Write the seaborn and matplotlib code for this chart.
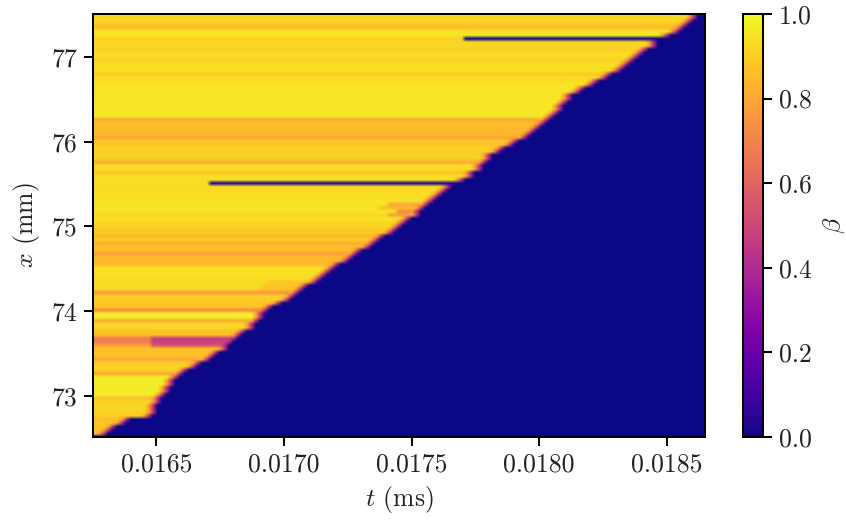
import numpy as np
import pandas as pd
import seaborn as sns
from matplotlib import pyplot as plt

# grid limits
t_min = 0.016252
t_step = 0.0000175
n_cols = 137
y_min = 72.516
y_max = 77.507

# ticks
x_ticks = [0.0165, 0.0170, 0.0175, 0.0180, 0.0185]
x_labels = ['0.0165', '0.0170', '0.0175', '0.0180', '0.0185']
y_ticks = [73, 74, 75, 76, 77]
y_labels = ['73', '74', '75', '76', '77']
cbar_ticks = [0.0, 0.2, 0.4, 0.6, 0.8, 1.0]
cbar_labels = ['0.0', '0.2', '0.4', '0.6', '0.8', '1.0']

# front time for every x row, bottom to top (1e-5 ms)
front_t = [1625.2, 1631.1, 1632.7, 1634.7, 1637.0, 1639.0, 1648.5, 1648.9, 1649.3, 1650.1,
           1650.8, 1652.0, 1653.2, 1654.4, 1655.6, 1656.4, 1657.5, 1658.7, 1660.3, 1662.7,
           1665.0, 1667.4, 1670.2, 1672.5, 1674.5, 1676.9, 1678.5, 1680.0, 1681.6, 1683.2,
           1685.2, 1687.9, 1688.7, 1689.9, 1691.1, 1691.9, 1693.4, 1695.8, 1699.0, 1701.7,
           1703.7, 1706.1, 1708.0, 1710.0, 1712.0, 1714.0, 1715.9, 1717.9, 1720.3, 1722.2,
           1724.6, 1726.6, 1728.9, 1730.9, 1733.3, 1735.2, 1737.6, 1739.6, 1742.0, 1744.3,
           1746.3, 1748.3, 1750.3, 1752.2, 1753.4, 1755.0, 1757.0, 1758.5, 1760.5, 1762.5,
           1764.1, 1765.6, 1768.0, 1771.2, 1773.1, 1774.7, 1776.7, 1777.9, 1779.1, 1780.2,
           1781.8, 1784.2, 1787.0, 1789.7, 1792.1, 1794.4, 1796.8, 1798.8, 1800.4, 1801.9,
           1803.5, 1805.1, 1806.7, 1808.2, 1809.8, 1810.6, 1811.8, 1813.0, 1815.7, 1818.5,
           1821.3, 1823.6, 1826.4, 1828.8, 1831.1, 1833.9, 1835.9, 1837.8, 1839.4, 1841.0,
           1843.0, 1844.9, 1846.5, 1850.9, 1851.6, 1853.6, 1855.6, 1857.2, 1859.5, 1861.5,
           1861.5]

# beta behind the front for every x row, bottom to top
row_beta = [.05, .86, .86, .88, .88, .86, .90, .90, .92, .92,
            .92, .86, .97, .97, .97, .97, .97, .97, .80, .91,
            .91, .90, .80, .87, .87, .87, .78, .68, .68, .87,
            .87, .92, .92, .82, .97, .97, .72, .88, .88, .90,
            .90, .76, .93, .93, .93, .93, .94, .94, .94, .85,
            .85, .85, .78, .86, .86, .82, .90, .84, .89, .89,
            .92, .92, .95, .92, .95, .95, .95, .95, .94, .94,
            .93, .93, .93, .94, .94, .88, .93, .93, .81, .91,
            .91, .91, .91, .88, .88, .80, .85, .85, .85, .87,
            .80, .96, .96, .96, .96, .96, .95, .95, .95, .95,
            .95, .93, .93, .89, .94, .94, .94, .91, .93, .93,
            .90, .92, .92, .91, .95, .95, .87, .87, .92, .92,
            .92]

# stretches of a row that differ from the rest of it
patch_rows = [26, 27, 28, 42, 43, 44, 63, 64, 65, 66, 72, 113]
patch_start = [1648, 1648, 1648, 1690, 1692, 1694, 1740, 1744, 1738, 1740, 1671, 1770.4]
patch_end = [1682, 1684, 1686, 1720, 1720, 1720, 1760, 1760, 1760, 1760, 1900, 1900]
patch_beta = [.55, .48, .48, .88, .88, .88, .78, .72, .85, .80, .03, .0]

# first cells behind the front (nearest last)
rim_beta = [.78, .42]

t_cells = t_min + t_step * (np.arange(n_cols) + 0.5)
front = np.array(front_t) * 1e-5
beta = np.zeros((len(row_beta), n_cols))
for k in range(len(row_beta)):
    beta[k] = np.where(t_cells < front[k], row_beta[k], 0.0)
for k, t0, t1, b in zip(patch_rows, patch_start, patch_end, patch_beta):
    hit = (t_cells > t0 * 1e-5) & (t_cells < t1 * 1e-5) & (t_cells < front[k])
    beta[k, hit] = b
for k in range(len(row_beta)):
    n = np.sum(t_cells < front[k])
    if n > 2:
        beta[k, n - 2] = min(beta[k, n - 2], rim_beta[0])
        beta[k, n - 1] = min(beta[k, n - 1], rim_beta[1])

df = pd.DataFrame(beta, columns=np.round(t_cells, 6))

plt.rcParams['font.family'] = ['cmr10', 'DejaVu Serif']
plt.rcParams['mathtext.fontset'] = 'cm'
plt.rcParams['axes.formatter.use_mathtext'] = True
plt.rcParams['axes.unicode_minus'] = False

text_size = 18.5
text_color = '#222222'
line_w = 1.45

fig = plt.figure(figsize=(8.46, 5.2), dpi=100)
ax = fig.add_axes([93 / 846, 83 / 520, 612 / 846, 423 / 520])
cax = fig.add_axes([743 / 846, 83 / 520, 20 / 846, 423 / 520])

sns.heatmap(df, cmap='plasma', vmin=0, vmax=1, ax=ax, cbar_ax=cax,
            xticklabels=False, yticklabels=False, rasterized=True,
            cbar_kws={'ticks': cbar_ticks})

# soft cell edges like the reference raster
ax.imshow(beta, cmap='plasma', vmin=0, vmax=1, origin='lower', aspect='auto',
          extent=(0, n_cols, 0, len(row_beta)), interpolation='bilinear',
          interpolation_stage='rgba', zorder=2)

ax.set_ylim(0.5, len(row_beta) - 0.5)
ax.set_xlim(0, n_cols)
for s in ax.spines.values():
    s.set_visible(True)
    s.set_linewidth(line_w)
    s.set_color('black')

x_pos = [(t - t_min) / t_step for t in x_ticks]
y_pos = [0.5 + (y - y_min) / (y_max - y_min) * (len(row_beta) - 1) for y in y_ticks]
ax.set_xticks(x_pos)
ax.set_xticklabels(x_labels, rotation=0, fontsize=text_size)
ax.set_yticks(y_pos)
ax.set_yticklabels(y_labels, rotation=0, fontsize=text_size)
ax.tick_params(length=6.5, width=line_w, pad=5, color='black', labelcolor=text_color)
ax.set_xlabel('$t$ (ms)', fontsize=text_size, color=text_color, labelpad=5)
ax.set_ylabel('$x$ (mm)', fontsize=text_size, color=text_color, labelpad=7)

cbar = ax.collections[0].colorbar
cbar.outline.set_visible(True)
cbar.outline.set_linewidth(line_w)
cbar.outline.set_edgecolor('black')
cbar.set_ticks(cbar_ticks)
cbar.set_ticklabels(cbar_labels, fontsize=text_size, color=text_color)
cax.tick_params(length=6.5, width=line_w, pad=5, color='black')
cbar.set_label(r'$\beta$', fontsize=text_size, color=text_color, labelpad=7)

fig.savefig('out.png', dpi=100)
